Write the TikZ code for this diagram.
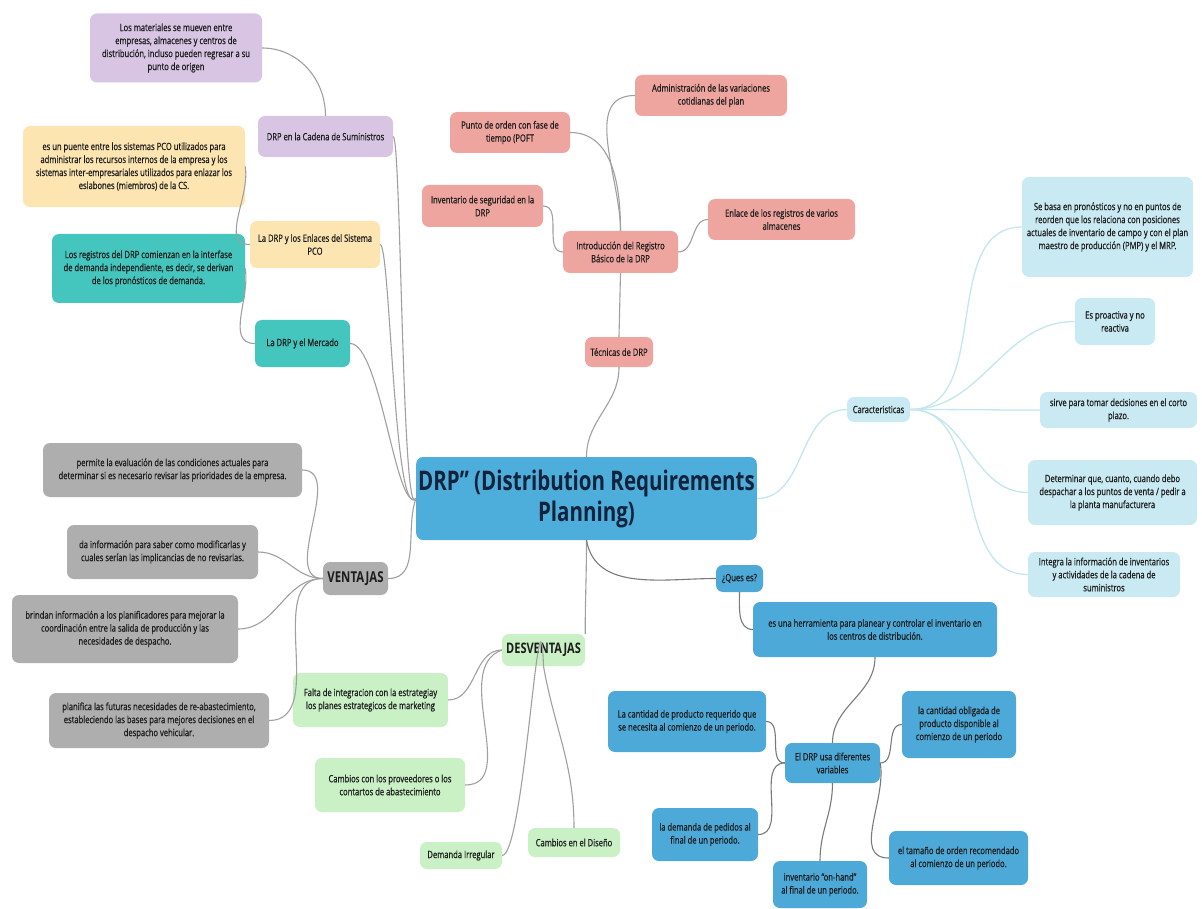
\documentclass[tikz,border=0pt]{standalone}
\usepackage{fontspec}
\setmainfont{Open Sans}[FakeStretch=0.76]
\newfontfamily\boxfont{Open Sans}[FakeStretch=0.76, FakeBold=0.7]
\definecolor{cpurple}{HTML}{D8C5E4}
\definecolor{cyellow}{HTML}{FDE5B2}
\definecolor{cteal}{HTML}{44C5BD}
\definecolor{csalmon}{HTML}{EFA59F}
\definecolor{cmain}{HTML}{4DAEDC}
\definecolor{clight}{HTML}{C9EAF3}
\definecolor{cgrey}{HTML}{AEAEAE}
\definecolor{cgreen}{HTML}{C9F1C5}
\definecolor{cblue}{HTML}{4CA9D8}
\definecolor{linkgray}{HTML}{A0A0A0}
\definecolor{darklink}{HTML}{7A7A7A}
\definecolor{cyanline}{HTML}{C4E6EF}
\definecolor{navy}{HTML}{14233C}
\definecolor{ink}{HTML}{1C1C1C}
\tikzset{
  box/.style={rounded corners=7pt, align=center, inner sep=2pt, text=ink,
    font=\boxfont\fontsize{10}{13}\selectfont},
  bx/.style n args={2}{minimum width=#1pt, minimum height=#2pt},
  link/.style={draw=linkgray, line width=1.1pt},
  dlink/.style={draw=darklink, line width=1.1pt},
  clink/.style={draw=cyanline, line width=1.3pt}
}
\begin{document}
\begin{tikzpicture}[x=1pt,y=-1pt]
\useasboundingbox (0,0) rectangle (1202,909);
\fill[white] (0,0) rectangle (1202,909);

% central topic
\node[box, fill=cmain, bx={337}{83}, text=navy,
  font=\rmfamily\fontsize{27}{31}\selectfont\bfseries] (M) at (586.5,498.5)
  {DRP” (Distribution Requirements\\Planning)};

% supply chain branch
\node[box, fill=cpurple, bx={172}{69}] (P1) at (176,48)
  {Los materiales se mueven entre\\empresas, almacenes y centros de\\distribución, incluso pueden regresar a su\\punto de origen};
\node[box, fill=cpurple, bx={135}{41}] (P2) at (325.5,136.5)
  {DRP en la Cadena de Suministros};
\node[box, fill=cyellow, bx={222}{81}] (Y1) at (134,166.5)
  {es un puente entre los sistemas PCO utilizados para\\administrar los recursos internos de la empresa y los\\sistemas inter-empresariales utilizados para enlazar los\\eslabones (miembros) de la CS.};
\node[box, fill=cyellow, bx={130}{47}] (Y2) at (315,244.5)
  {La DRP y los Enlaces del Sistema\\PCO};
\node[box, fill=cteal, bx={193}{69}] (T1) at (148.5,268.5)
  {Los registros del DRP comienzan en la interfase\\de demanda independiente, es decir, se derivan\\de los pronósticos de demanda.};
\node[box, fill=cteal, bx={95}{47}] (T2) at (302.5,343.5)
  {La DRP y el Mercado};

% techniques branch
\node[box, fill=csalmon, bx={152}{41}] (R1) at (711,95.5)
  {Administración de las variaciones\\cotidianas del plan};
\node[box, fill=csalmon, bx={120}{41}] (R2) at (510,132.5)
  {Punto de orden con fase de\\tiempo (POFT};
\node[box, fill=csalmon, bx={121}{42}] (R3) at (482.5,206)
  {Inventario de seguridad en la\\DRP};
\node[box, fill=csalmon, bx={147}{41}] (R4) at (781.5,219.5)
  {Enlace de los registros de varios\\almacenes};
\node[box, fill=csalmon, bx={115}{42}] (R5) at (620.5,252)
  {Introducción del Registro\\Básico de la DRP};
\node[box, fill=csalmon, bx={68}{30}] (R6) at (619,352)
  {Técnicas de DRP};

% characteristics branch
\node[box, fill=clight, bx={63}{25}] (CAR) at (878.5,409.5) {Caracteristicas};
\node[box, fill=clight, bx={171}{100}] (C1) at (1107.5,227)
  {Se basa en pronósticos y no en puntos de\\reorden que los relaciona con posiciones\\actuales de inventario de campo y con el plan\\maestro de producción (PMP) y el MRP.};
\node[box, fill=clight, bx={80}{47}] (C2) at (1115,321.5)
  {Es proactiva y no\\reactiva};
\node[box, fill=clight, bx={157}{36}] (C3) at (1118.5,410)
  {sirve para tomar decisiones en el corto\\plazo.};
\node[box, fill=clight, bx={169}{65}] (C4) at (1112.5,492.5)
  {Determinar que, cuanto, cuando debo\\despachar a los puntos de venta / pedir a\\la planta manufacturera};
\node[box, fill=clight, bx={152}{45}] (C5) at (1104,574.5)
  {Integra la información de inventarios\\y actividades de la cadena de\\suministros};

% advantages branch
\node[box, fill=cgrey, bx={65}{33}, font=\rmfamily\fontsize{15}{18}\selectfont\bfseries] (VEN) at (355.5,578.5) {VENTAJAS};
\node[box, fill=cgrey, bx={259}{54}] (G1) at (172.5,470)
  {permite la evaluación de las condiciones actuales para\\determinar si es necesario revisar las prioridades de la empresa.};
\node[box, fill=cgrey, bx={191}{54}] (G2) at (162.5,552)
  {da información para saber como modificarlas y\\cuales serían las implicancias de no revisarlas.};
\node[box, fill=cgrey, bx={226}{68}] (G3) at (125,629)
  {brindan información a los planificadores para mejorar la\\coordinación entre la salida de producción y las\\necesidades de despacho.};
\node[box, fill=cgrey, bx={220}{55}] (G4) at (159,720.5)
  {planifica las futuras necesidades de re-abastecimiento,\\estableciendo las bases para mejores decisiones en el\\despacho vehicular.};

% disadvantages branch
\node[box, fill=cgreen, bx={83}{32}, font=\rmfamily\fontsize{14.5}{17}\selectfont\bfseries] (DES) at (543.5,650) {DESVENTAJAS};
\node[box, fill=cgreen, bx={155}{54}] (D1) at (370.5,700)
  {Falta de integracion con la estrategiay\\los planes estrategicos de marketing};
\node[box, fill=cgreen, bx={150}{54}] (D2) at (390,785)
  {Cambios con los proveedores o los\\contartos de abastecimiento};
\node[box, fill=cgreen, bx={82}{27}] (D3) at (461,855.5) {Demanda Irregular};
\node[box, fill=cgreen, bx={92}{29}] (D4) at (574,842.5) {Cambios en el Diseño};

% definition branch
\node[box, fill=cblue, bx={47}{27}] (Q) at (739.5,578.5) {¿Ques es?};
\node[box, fill=cblue, bx={244}{55}] (B1) at (875,629.5)
  {es una herramienta para planear y controlar el inventario en\\los centros de distribución.};
\node[box, fill=cblue, bx={95}{40}] (B2) at (832.5,763)
  {El DRP usa diferentes\\variables};
\node[box, fill=cblue, bx={158}{61}] (B3) at (687,721.5)
  {La cantidad de producto requerido que\\se necesita al comienzo de un periodo.};
\node[box, fill=cblue, bx={114}{67}] (B4) at (959,724.5)
  {la cantidad obligada de\\producto disponible al\\comienzo de un periodo};
\node[box, fill=cblue, bx={106}{53}] (B5) at (705,834.5)
  {la demanda de pedidos al\\final de un periodo.};
\node[box, fill=cblue, bx={94}{47}] (B6) at (820,884.5)
  {inventario “on-hand”\\al final de un periodo.};
\node[box, fill=cblue, bx={139}{54}] (B7) at (958.5,858)
  {el tamaño de orden recomendado\\al comienzo de un periodo.};

% connectors: supply chain branch
\draw[link] (P1.east) to[out=0,in=90] (P2.north);
\draw[link] (P2.east) .. controls ([xshift=8pt]P2.east) and ([shift={(-14pt,-30pt)}]M.west) .. (M.west);
\draw[link] (Y2.east) .. controls ([xshift=10pt]Y2.east) and ([shift={(-22pt,-25pt)}]M.west) .. (M.west);
\draw[link] (T2.east) .. controls ([xshift=30pt]T2.east) and ([shift={(-20pt,-15pt)}]M.west) .. (M.west);
\draw[link] (Y1.east) to[out=-80,in=180] (Y2.west);
\draw[link] (T1.east) to[out=-80,in=180] (T2.west);

% connectors: techniques branch
\draw[link] (R6.south) to[out=-90,in=90] (M.north);
\draw[link] (R5.south) -- (R6.north);
\draw[link] (R5.north) to[out=90,in=0] (R2.east);
\draw[link] (R5.north) to[out=90,in=180] (R1.west);
\draw[link] (R5.west) to[out=180,in=0] (R3.east);
\draw[link] (R5.east) to[out=0,in=180] (R4.west);

% connectors: characteristics branch
\draw[clink] (M.east) to[out=0,in=180] (CAR.west);
\foreach \c in {C1,C2,C3,C4,C5}
  \draw[clink] (CAR.east) to[out=0,in=180] (\c.west);

% connectors: advantages branch
\draw[link] (M.west) to[out=-110,in=0] (VEN.east);
\foreach \g in {G1,G2,G3,G4}
  \draw[link] (VEN.west) to[out=180,in=0] (\g.east);

% connectors: disadvantages branch
\draw[link] (M.south) to[out=-90,in=90] (DES.north east);
\draw[link] (DES.west) to[out=180,in=0] (D1.east);
\draw[link] (DES.west) to[out=200,in=0] (D2.east);
\draw[link] (DES.south) .. controls ([shift={(-4pt,110pt)}]DES.south) and ([shift={(22pt,0pt)}]D3.east) .. (D3.east);
\draw[link] (DES.south) to[out=-80,in=90] (D4.north);

% connectors: definition branch
\draw[dlink] (M.south) to[out=-80,in=180] (Q.west);
\draw[dlink] (Q.south) to[out=-90,in=180] (B1.west);
\draw[dlink] (B1.south) to[out=-90,in=90] (B2.north);
\draw[dlink] (B2.west) to[out=180,in=0] (B3.east);
\draw[dlink] (B2.west) to[out=180,in=0] (B5.east);
\draw[dlink] (B2.south) to[out=-90,in=90] (B6.north);
\draw[dlink] (B2.east) to[out=0,in=180] (B4.west);
\draw[dlink] (B2.east) to[out=-80,in=180] (B7.west);
\end{tikzpicture}
\end{document}
